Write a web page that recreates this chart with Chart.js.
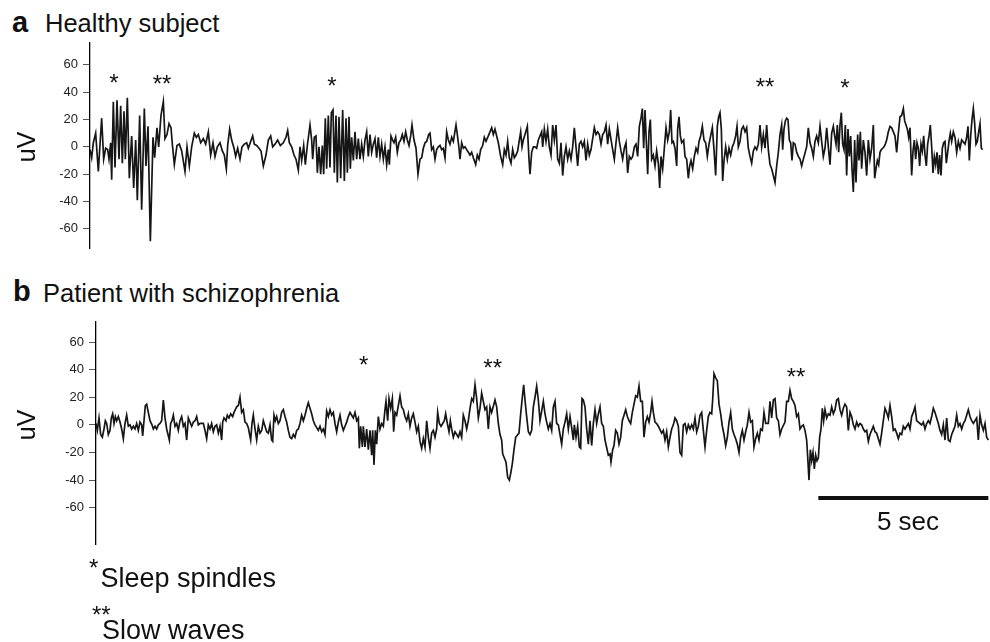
<!DOCTYPE html>
<html>
<head>
<meta charset="utf-8">
<script src="https://cdn.jsdelivr.net/npm/chart.js@4/dist/chart.umd.min.js"></script>
<style>
html,body{margin:0;padding:0;background:#fff;}
body{width:990px;height:642px;position:relative;overflow:hidden;font-family:"Liberation Sans",Arial,Helvetica,sans-serif;color:#111;}
.t{position:absolute;white-space:nowrap;line-height:1;margin:0;}
canvas{position:absolute;left:0;}
</style>
</head>
<body>
<div class="t" style="left:12px;top:8px;font-size:29px;font-weight:bold;">a</div>
<div class="t" style="left:45px;top:11.4px;font-size:25.5px;">Healthy subject</div>
<div class="t" style="left:13px;top:277px;font-size:29px;font-weight:bold;">b</div>
<div class="t" style="left:43px;top:281px;font-size:25.5px;">Patient with schizophrenia</div>

<canvas id="chartA" width="990" height="230" style="top:30px;"></canvas>
<canvas id="chartB" width="990" height="250" style="top:305px;"></canvas>

<div class="t" style="left:858px;width:100px;text-align:center;top:508px;font-size:26px;">5 sec</div>

<div class="t" style="left:89px;top:556px;font-size:24px;">*</div>
<div class="t" style="left:100.5px;top:565.4px;font-size:27px;">Sleep spindles</div>
<div class="t" style="left:92px;top:603px;font-size:24px;">**</div>
<div class="t" style="left:102px;top:617px;font-size:27px;">Slow waves</div>

<script>
// ---------------- DATA ----------------
// sampling rate of the sample index axis (samples per second)
const fs = 102;
const yTickValues = [-60, -40, -20, 0, 20, 40, 60];
const yUnit = 'uV';
const scaleBarSeconds = 5;

// (a) Healthy subject: sample index and amplitude (uV)
const samplesA = [
0,5,10,17,25,35,41,47,53,57,62,65,70,75,81,87,92,97,102,106,
112,118,125,131,137,142,149,155,163,168,174,181,189,194,201,206,213,220,225,231,
237,243,247,253,261,268,275,285,291,298,305,313,319,325,332,340,347,355,362,369,
375,382,390,397,403,409,413,419,425,432,437,443,450,456,463,470,475,482,488,493,
500,507,513,520,528,535,542,548,555,563,571,580,588,593,598,605,612,618,625,630,
635,641,646,652,660,665,668,673,678,682,687,692,697,701,706,710,715,720,724,729,
733,738,742,747,752,758,763,768,772,777,781,785,790,795,800,805,810,815,820,825,
830,835,840,845,850,855,860,865,870,875,880,885,890,895,898,903,908,912,917,922,
927,932,937,942,947,952,957,962,966,972,978,984,990,995,1000,1005,1010,1016,1020,1025,
1030,1035,1040,1045,1050,1055,1060,1065,1070,1075,1080,1085,1090,1098,1102,1107,1110,1115,1120,1125,
1130,1140,1145,1150,1157,1162,1167,1172,1178,1183,1188,1195,1200,1205,1210,1215,1220,1225,1232,1238,
1243,1248,1253,1258,1263,1268,1273,1278,1283,1288,1292,1296,1300,1305,1312,1317,1320,1325,1330,1335,
1340,1345,1350,1355,1358,1363,1368,1373,1378,1383,1388,1393,1398,1403,1408,1413,1418,1423,1428,1433,
1438,1443,1448,1453,1458,1463,1468,1473,1478,1483,1488,1493,1498,1503,1513,1518,1523,1528,1533,1538,
1543,1548,1553,1558,1568,1573,1578,1583,1588,1593,1598,1603,1608,1613,1618,1623,1628,1633,1638,1643,
1648,1653,1657,1661,1665,1670,1673,1677,1681,1685,1690,1695,1700,1705,1709,1713,1718,1723,1728,1733,
1738,1742,1746,1750,1755,1760,1763,1767,1771,1775,1781,1785,1790,1795,1799,1803,1808,1813,1818,1823,
1827,1832,1837,1842,1847,1852,1857,1862,1867,1872,1877,1882,1886,1890,1894,1898,1902,1907,1912,1917,
1922,1927,1932,1937,1941,1945,1950,1955,1960,1965,1970,1975,1980,1985,1990,1995,2000,2005,2010,2015,
2020,2025,2030,2035,2040,2045,2050,2055,2060,2065,2070,2075,2078,2082,2086,2090,2094,2098,2102,2106,
2110,2115,2120,2125,2130,2135,2140,2150,2155,2160,2165,2170,2175,2180,2185,2190,2195,2200,2205,2210,
2215,2220,2225,2230,2234,2238,2242,2246,2250,2254,2258,2262,2266,2270,2274,2278,2282,2286,2290,2294,
2298,2303,2307,2311,2315,2320,2325,2330,2335,2340,2345,2350,2354,2358,2362,2366,2370,2374,2378,2382,
2386,2390,2395,2400,2405,2410,2415,2420,2425,2430,2435,2440,2444,2448,2452,2456,2460,2465,2469,2473,
2477,2481,2485,2489,2493,2497,2501,2505,2509,2513,2517,2521,2525,2529,2533,2537,2541,2545,2549,2553,
2557,2561,2565,2569,2573,2577,2581,2585,2590,2595,2600,2605,2610,2615,2625,2630,2634,2638,2642,2646,
2650,2654,2658,2662,2666,2670,2674,2678
];
const microvoltsA = [
-2,-8,3,10,-18,21,-9,-1,-2,-9,3,-24,33,-15,34,-9,30,-12,26,-9,
36,-23,8,-30,5,-39,23,-46,28,-14,15,-69,7,-8,14,0,23,33,6,9,
17,14,2,-13,1,2,-3,-18,0,-14,0,10,7,9,3,6,2,11,-6,3,
-7,0,3,-3,-6,-16,1,13,5,-1,-7,-1,-9,0,2,3,-1,4,8,2,
1,-1,-3,-14,-6,5,8,0,2,5,1,3,7,12,3,0,-6,-9,-17,0,
-10,1,-13,1,16,5,-9,7,8,-19,0,-20,1,-20,21,-16,23,-15,25,27,
-19,23,-26,22,-23,27,-25,21,-19,22,-16,7,-10,11,-9,6,-9,2,-7,5,
11,-7,9,-4,2,6,-8,7,-7,2,-9,0,-13,-2,-13,8,5,3,7,-4,
3,5,9,4,11,5,1,8,16,5,-1,-20,-9,-8,-1,3,4,9,10,-2,
0,-9,-2,0,1,-2,-1,-8,11,5,2,7,4,16,9,-1,-9,3,-1,0,
-2,-6,-4,-8,-13,-6,-9,-2,1,7,4,8,11,14,9,13,8,3,-7,-13,
-2,-6,4,-8,-12,-2,-8,-6,-3,5,11,0,5,9,15,-9,-20,-4,0,0,
-1,5,8,11,0,13,4,13,0,-6,16,5,16,-9,-12,3,-21,-7,0,-9,
-3,-9,0,14,0,-14,2,4,0,4,-10,2,-6,-2,14,9,11,9,2,9,
11,16,2,13,-2,-9,3,14,4,-3,-9,-1,3,-19,-7,-9,-7,0,2,-7,
15,21,28,-1,27,-2,-20,11,20,-9,-6,-14,-3,-12,-30,-7,-16,-1,14,5,
11,27,3,4,-1,-14,13,22,8,3,5,-7,-9,-23,-14,-10,-16,-7,-1,-4,
4,8,15,5,3,-7,2,8,14,-2,-21,15,22,25,13,-25,-10,0,-9,-1,
-6,0,3,8,15,0,4,13,15,11,14,-1,-7,-12,-3,0,-2,2,16,0,
9,-1,16,-2,-13,-16,-21,-26,-14,-4,9,16,-2,13,19,21,20,5,3,-10,
3,2,-4,-7,-9,-14,-9,0,14,3,-1,-7,4,8,3,15,4,-7,-1,14,
0,-13,10,15,8,2,16,-4,16,25,2,-2,16,-21,13,-7,8,-16,-33,5,
-26,9,-10,11,-16,5,-4,-21,5,-9,-1,16,-23,-16,-10,-13,-4,-2,-1,0,
2,5,11,15,14,11,8,-4,10,22,23,28,19,16,13,7,14,-21,-3,5,
-9,3,-1,-14,2,-3,8,-6,-14,2,8,16,0,-19,-7,-13,-4,-20,-6,-21,
-1,3,4,-12,-4,4,10,4,11,7,-4,4,-1,5,2,7,15,-10,8,20,
28,17,2,4,11,17,-1,-2
];

// (b) Patient with schizophrenia: sample index and amplitude (uV)
const samplesB = [
0,4,9,14,19,24,28,32,37,42,46,50,54,58,62,67,72,77,82,87,
92,97,102,107,112,117,122,127,132,137,140,144,148,152,157,162,168,172,177,182,
187,192,197,202,207,212,216,220,224,228,232,237,242,247,252,257,262,267,272,277,
282,287,292,297,302,307,312,322,327,332,337,342,347,352,357,362,367,372,377,380,
384,390,394,399,404,410,414,418,422,427,432,437,442,447,452,457,460,464,468,472,
477,482,487,492,497,502,507,512,517,522,527,530,534,538,542,547,552,557,562,567,
572,577,582,587,592,597,602,607,612,617,622,627,632,637,642,647,652,657,662,667,
672,677,682,687,692,697,702,707,712,717,722,727,732,737,742,747,752,757,762,767,
772,777,782,787,790,794,799,802,807,812,817,822,827,830,834,838,842,847,852,857,
862,867,870,875,879,884,889,893,897,902,907,912,917,922,927,932,937,942,947,952,
957,962,967,972,977,982,987,992,997,1002,1007,1012,1017,1022,1025,1030,1035,1040,1045,1049,
1054,1059,1063,1067,1072,1077,1082,1087,1092,1097,1102,1107,1112,1117,1122,1127,1132,1137,1142,1147,
1152,1157,1162,1167,1172,1177,1182,1187,1197,1202,1207,1212,1217,1220,1225,1230,1235,1240,1245,1249,
1254,1259,1269,1274,1279,1283,1287,1292,1297,1302,1307,1312,1317,1322,1327,1332,1342,1347,1352,1357,
1362,1367,1372,1377,1382,1387,1392,1397,1402,1407,1412,1417,1422,1427,1432,1435,1440,1445,1450,1454,
1458,1462,1467,1472,1477,1482,1487,1492,1497,1502,1507,1512,1517,1522,1527,1537,1542,1545,1550,1554,
1559,1564,1569,1574,1579,1584,1589,1594,1599,1604,1609,1614,1619,1624,1629,1634,1639,1644,1649,1654,
1659,1664,1668,1672,1677,1682,1687,1697,1702,1707,1712,1717,1722,1727,1732,1737,1742,1747,1752,1757,
1762,1767,1772,1777,1782,1787,1792,1797,1802,1807,1812,1817,1822,1827,1832,1837,1842,1847,1850,1854,
1859,1864,1869,1874,1879,1884,1889,1894,1899,1904,1909,1914,1919,1924,1929,1934,1939,1944,1949,1954,
1959,1964,1969,1974,1979,1984,1989,1994,1999,2004,2009,2017,2022,2027,2032,2037,2042,2047,2052,2057,
2067,2072,2077,2082,2087,2092,2097,2102,2107,2112,2117,2122,2127,2132,2135,2139,2143,2147,2151,2155,
2159,2163,2167,2171,2175,2179,2183,2187,2192,2197,2202,2207,2212,2217,2222,2227,2232,2237,2242,2247,
2252,2257,2262,2267,2272,2277,2282,2287,2292,2297,2302,2307,2312,2317,2322,2332,2337,2342,2347,2352,
2357,2362,2367,2372,2377,2382,2387,2392,2397,2402,2407,2412,2417,2422,2427,2432,2437,2442,2447,2452,
2457,2462,2467,2472,2477,2482,2487,2492,2497,2502,2507,2512,2517,2522,2527,2532,2537,2542,2547,2552,
2557,2562,2567,2572,2577,2582,2587,2592,2597,2602,2607,2612,2617,2622,2627,2632,2642,2647,2652,2657,
2662,2667,2672,2677
];
const microvoltsB = [
1,-4,5,-7,-9,-3,3,1,-7,-4,5,8,1,6,3,6,2,-3,-10,1,
7,-1,0,-3,-1,-3,1,-4,2,0,-8,3,14,15,9,3,0,-3,-1,-3,
0,1,3,18,5,-3,-7,-11,1,3,7,-1,1,-4,3,6,-1,1,-11,5,
2,-1,2,3,6,0,1,1,-4,-10,0,-3,1,-5,-1,0,-6,-1,-11,2,
5,3,7,5,8,6,9,11,13,14,20,9,11,2,1,-2,-6,-11,1,7,
-3,-11,-1,-6,-4,3,-1,-5,-6,0,-11,-12,7,3,6,1,3,9,11,6,
2,-4,-9,-10,-7,-9,-4,-3,1,7,3,7,12,16,12,8,3,0,-2,-4,
-1,-5,-3,-7,10,6,11,7,9,1,-5,2,7,0,-4,-1,2,6,9,7,
5,9,3,5,-17,-1,-16,-1,-16,-3,-18,-4,-22,-4,-29,-4,-14,6,-3,1,
-1,11,17,3,19,12,19,-5,9,7,14,21,13,11,6,3,8,-1,5,8,
2,-5,-1,-12,-17,-10,-16,3,-9,-17,-6,-4,-9,-3,9,1,-1,1,3,8,
1,-5,3,-3,-9,-5,-7,-9,-5,-9,7,3,-3,3,12,19,17,29,19,5,
12,23,17,11,13,-3,13,9,18,13,1,-7,-11,-21,-24,-27,-38,-40,-34,-28,
-18,-9,-6,8,20,29,18,6,-5,-7,-4,13,20,28,18,3,17,8,2,-3,
1,-4,13,17,1,0,-7,-14,-3,2,8,-3,6,-2,-11,0,-9,-1,-16,-17,
19,18,13,-3,-14,3,-15,1,11,1,8,13,1,-1,-11,-22,-21,-27,-18,-15,
-4,-6,-14,-9,3,7,11,6,3,1,9,15,21,20,28,17,17,-9,2,6,
2,9,17,9,2,1,-1,-6,-4,-11,-5,-16,-9,-3,0,5,3,-1,-20,-22,
0,1,-5,0,-3,0,-3,5,-5,-1,7,9,-4,-16,-4,6,9,8,18,37,
34,32,15,8,-1,-7,-15,-9,2,9,-3,-7,-10,-14,-20,-9,-4,-11,-5,0,
9,2,3,-16,-10,-6,-11,-3,-4,9,1,1,17,5,18,19,5,3,-7,-3,
2,17,17,25,19,17,14,6,8,-3,-1,0,-4,-11,-23,-40,-18,-26,-20,-32,
-22,-26,-24,-9,-3,12,3,11,5,8,7,13,8,11,18,19,11,7,12,15,
13,-4,9,6,0,-3,2,-1,1,0,-3,-5,-4,-12,-7,-1,-5,-6,-10,-14,
-6,3,12,9,5,14,6,-4,-3,-6,-10,-6,-7,-1,-3,-1,1,-3,6,9,
13,3,2,1,0,2,-3,1,3,1,6,12,9,5,1,-4,-7,0,-11,5,
-11,-12,-7,-4,-1,7,-1,1,-3,1,3,7,11,6,3,1,5,-11,7,0,
-4,1,-9,-11
];

// event markers (sample index, symbol, height in uV)
const markSamplesA = [72, 216, 726, 2025, 2265];
const markSymbolsA = ['*', '**', '*', '**', '*'];
const markLevelsA  = [51, 50, 49, 48, 47.5];
const markSamplesB = [803, 1190, 2100];
const markSymbolsB = ['*', '**', '**'];
const markLevelsB  = [47.7, 45.3, 38.5];
const scaleBarLevel = -53;

// ---------------- CHARTS ----------------
const FONT = '"Liberation Sans", Arial, Helvetica, sans-serif';

function toPoints(xs, ys) {
  const n = Math.min(xs.length, ys.length);
  const pts = [];
  for (let i = 0; i < n; i++) pts.push({x: xs[i], y: ys[i]});
  return pts;
}

const annotationPlugin = {
  id: 'eegAnnot',
  afterDatasetsDraw(chart, args, opts) {
    const ctx = chart.ctx;
    const xs = chart.scales.x, ys = chart.scales.y;
    ctx.save();
    ctx.fillStyle = '#111';
    ctx.font = '24px ' + FONT;
    ctx.textAlign = 'center';
    ctx.textBaseline = 'alphabetic';
    (opts.samples || []).forEach((s, i) => {
      const px = xs.getPixelForValue(s);
      const py = ys.getPixelForValue(opts.levels[i]);
      ctx.fillText(opts.symbols[i], px, py + 0.57 * 24);
    });
    // unit label, centred on the zero line
    ctx.translate(opts.unitX, ys.getPixelForValue(0));
    ctx.rotate(-Math.PI / 2);
    ctx.font = '25px ' + FONT;
    ctx.textBaseline = 'middle';
    ctx.fillText(yUnit, 0, 0);
    ctx.restore();
  }
};

function makeChart(id, xs, ys, cfg) {
  const datasets = [{
    data: toPoints(xs, ys),
    borderColor: '#161616',
    borderWidth: 1.7,
    borderJoinStyle: 'miter',
    pointRadius: 0,
    tension: 0,
    fill: false
  }];
  if (cfg.scaleBar) {
    const end = xs[xs.length - 1];
    datasets.push({
      data: [{x: end - scaleBarSeconds * fs, y: scaleBarLevel}, {x: end, y: scaleBarLevel}],
      borderColor: '#111',
      borderWidth: 4,
      borderCapStyle: 'butt',
      pointRadius: 0,
      fill: false
    });
  }
  return new Chart(document.getElementById(id), {
    type: 'line',
    data: {datasets},
    options: {
      responsive: false,
      animation: false,
      devicePixelRatio: 1,
      layout: {padding: {left: 0, right: 0, top: cfg.padTop, bottom: cfg.padBottom}},
      plugins: {
        legend: {display: false},
        tooltip: {enabled: false},
        eegAnnot: {samples: cfg.markSamples, symbols: cfg.markSymbols, levels: cfg.markLevels, unitX: 28.5}
      },
      scales: {
        x: {type: 'linear', display: false, min: 0, max: cfg.xMax},
        y: {
          type: 'linear',
          min: cfg.yMin, max: cfg.yMax,
          afterBuildTicks: s => { s.ticks = yTickValues.map(v => ({value: v})); },
          afterFit: s => { s.width = cfg.axisLeft; s.paddingTop = 0; s.paddingBottom = 0; },
          ticks: {
            color: '#222',
            font: {family: FONT, size: 13},
            padding: 5,
            callback: v => String(v)
          },
          grid: {display: true, drawOnChartArea: false, drawTicks: true, tickLength: 7, tickColor: '#555', tickWidth: 1},
          border: {display: true, color: '#000', width: 1.3}
        }
      }
    },
    plugins: [annotationPlugin]
  });
}

makeChart('chartA', samplesA, microvoltsA, {
  padTop: 13, padBottom: 12, axisLeft: 90, xMax: 2700, yMin: -74, yMax: 76,
  markSamples: markSamplesA, markSymbols: markSymbolsA, markLevels: markLevelsA
});
makeChart('chartB', samplesB, microvoltsB, {
  padTop: 17, padBottom: 11, axisLeft: 96, xMax: 2682, yMin: -86.3, yMax: 74.5,
  markSamples: markSamplesB, markSymbols: markSymbolsB, markLevels: markLevelsB, scaleBar: true
});
</script>
</body>
</html>
